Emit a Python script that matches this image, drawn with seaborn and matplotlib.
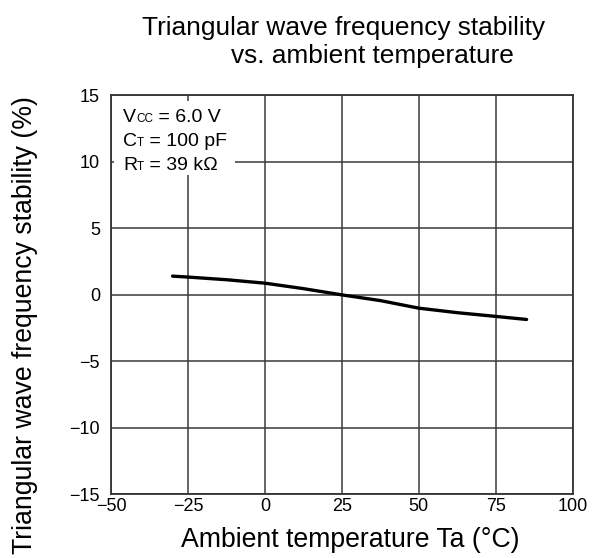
import matplotlib
import numpy as np
import pandas as pd
import seaborn as sns

matplotlib.use("Agg")
import matplotlib.pyplot as plt
from matplotlib.offsetbox import AnchoredOffsetbox, HPacker, TextArea, VPacker
from matplotlib.patches import Rectangle


# curve
temperature_c = [-30, -25, -12.5, 0, 12.5, 25, 37.5, 50, 62.5, 75, 85]
stability_pct = [1.41, 1.34, 1.14, 0.88, 0.47, 0.0, -0.43, -1.0, -1.34, -1.62, -1.85]

x_ticks = [-50, -25, 0, 25, 50, 75, 100]
y_ticks = [-15, -10, -5, 0, 5, 10, 15]

conditions = [
    ("V", "CC", " = 6.0 V"),
    ("C", "T", " = 100 pF"),
    ("R", "T", " = 39 k\u03a9"),
]

title_lines = ["Triangular wave frequency stability", "vs. ambient temperature"]
x_label = "Ambient temperature Ta (\u00b0C)"
y_label = "Triangular wave frequency stability (%)"


def configure_plot_style() -> None:
    sns.set_theme(style="ticks")
    plt.rcParams["font.family"] = ["Liberation Sans", "DejaVu Sans"]
    plt.rcParams["axes.unicode_minus"] = True
    plt.rcParams["text.color"] = "black"


def main() -> None:
    configure_plot_style()
    df = pd.DataFrame({"temp": temperature_c, "stab": stability_pct})

    fig = plt.figure(figsize=(5.92, 5.58), dpi=100)
    ax = fig.add_axes([0.1875, 0.1142, 0.780, 0.7147])

    sns.lineplot(data=df, x="temp", y="stab", color="black", linewidth=2.4, ax=ax, zorder=4)

    ax.set_xlim(-50, 100)
    ax.set_ylim(-15, 15)
    ax.set_xticks(x_ticks)
    ax.set_yticks(y_ticks)
    ax.grid(True, color="#3a3a3a", linewidth=1.1)
    ax.tick_params(length=0, labelsize=13, labelcolor="black")
    ax.tick_params(axis="x", pad=3)
    ax.tick_params(axis="y", pad=8)
    for spine in ax.spines.values():
        spine.set_linewidth(1.3)
        spine.set_color("#333333")
    ax.set_xlabel("")
    ax.set_ylabel("")

    # white panel behind the test conditions
    ax.add_patch(Rectangle((0.006, 0.80), 0.263, 0.186, transform=ax.transAxes,
                           facecolor="white", edgecolor="none", zorder=3))
    rows = []
    for main_txt, sub_txt, rest in conditions:
        rows.append(HPacker(children=[
            TextArea(main_txt, textprops=dict(size=14, color="black")),
            TextArea(sub_txt, textprops=dict(size=8.5, color="black")),
            TextArea(rest, textprops=dict(size=14, color="black")),
        ], align="baseline", pad=0, sep=0))
    box = AnchoredOffsetbox(loc="upper left", child=VPacker(children=rows, align="left", pad=0, sep=5),
                            pad=0, borderpad=0, frameon=False,
                            bbox_to_anchor=(0.026, 0.966), bbox_transform=ax.transAxes)
    box.set_zorder(5)
    ax.add_artist(box)

    fig.text(0.581, 0.937, title_lines[0], ha="center", va="baseline", fontsize=18.9)
    fig.text(0.629, 0.887, title_lines[1], ha="center", va="baseline", fontsize=18.9)
    fig.text(0.591, 0.0197, x_label, ha="center", va="baseline", fontsize=19.2)
    fig.text(0.042, 0.418, y_label, ha="center", va="center", rotation=90, fontsize=19.2)

    fig.savefig("out.png", dpi=100)
    plt.close(fig)


if __name__ == "__main__":
    main()
